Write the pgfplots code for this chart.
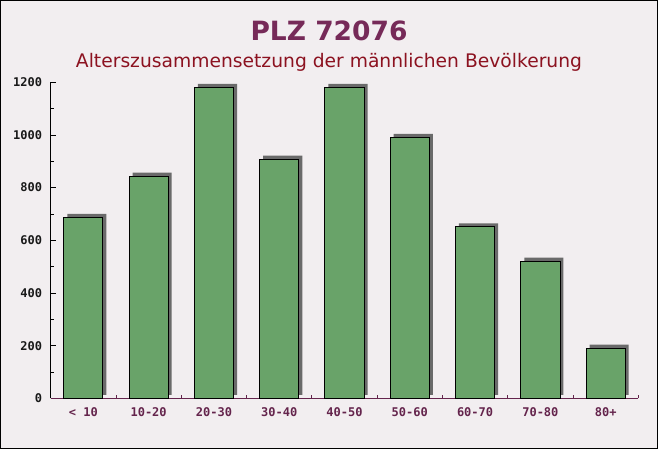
\documentclass[border=0pt]{standalone}
\usepackage{fontspec}
\setmainfont{DejaVu Sans}
\newfontfamily\monob{DejaVu Sans Mono}[BoldFont={DejaVu Sans Mono Bold}]
\usepackage{pgfplots}
\pgfplotsset{compat=1.18}
\definecolor{bgc}{RGB}{242,238,240}
\definecolor{titlec}{RGB}{118,42,88}
\definecolor{subc}{RGB}{140,18,32}
\definecolor{xlabc}{RGB}{100,36,76}
\definecolor{barc}{RGB}{105,163,105}
\definecolor{shadc}{RGB}{92,92,92}
\begin{document}
\begin{tikzpicture}
\fill[bgc] (-50.7bp,-50.7bp) rectangle (607.3bp,398.3bp);
\draw[black, line width=1bp] (-50.2bp,-50.2bp) rectangle (606.8bp,397.8bp);
\node[text=titlec, font=\fontsize{26.5bp}{30bp}\selectfont\bfseries] at (278.3bp,367.3bp) {PLZ 72076};
\node[text=subc, font=\fontsize{18.7bp}{22bp}\selectfont] at (278.3bp,336bp) {Alterszusammensetzung der männlichen Bevölkerung};
\begin{axis}[
  at={(0,0)}, anchor=south west,
  scale only axis, width=587.6bp, height=316bp,
  xmin=-0.5, xmax=8.5, ymin=0, ymax=1200,
  axis x line=bottom, axis y line=left,
  axis line style={-},
  x axis line style={xlabc, line width=1bp},
  y axis line style={black, line width=1bp},
  xtick={0,1,2,3,4,5,6,7,8},
  xticklabels={< 10,10-20,20-30,30-40,40-50,50-60,60-70,70-80,80+},
  minor xtick={0.5,1.5,2.5,3.5,4.5,5.5,6.5,7.5,8.5},
  ytick={0,200,400,600,800,1000,1200},
  minor ytick={100,300,500,700,900,1100},
  tick align=inside,
  x tick style={xlabc, line width=0.8bp},
  y tick style={black, line width=0.9bp},
  major x tick style={draw=none},
  major tick length=5bp, minor tick length=3.5bp,
  xticklabel style={text=xlabc, font=\monob\bfseries\fontsize{12bp}{13bp}\selectfont, anchor=north, inner sep=0pt, yshift=-9bp},
  yticklabel style={text=black!90, font=\monob\bfseries\fontsize{12bp}{13bp}\selectfont, anchor=east, inner sep=0pt, xshift=-8.4bp},
  /pgf/number format/assume math mode=true,
  yticklabel={\pgfmathprintnumber[1000 sep={}]{\tick}},
  clip=true,
]
\addplot[ybar, bar width=0.6, bar shift=0pt, fill=shadc, draw=none, fill opacity=0.9, xshift=3.5bp, yshift=3.5bp]
  coordinates {(0,687) (1,844) (2,1181) (3,908) (4,1181) (5,991) (6,651) (7,521) (8,191)};
\addplot[ybar, bar width=0.6, bar shift=0pt, fill=barc, draw=black, line width=0.9bp]
  coordinates {(0,687) (1,844) (2,1181) (3,908) (4,1181) (5,991) (6,651) (7,521) (8,191)};
\end{axis}
\end{tikzpicture}
\end{document}
